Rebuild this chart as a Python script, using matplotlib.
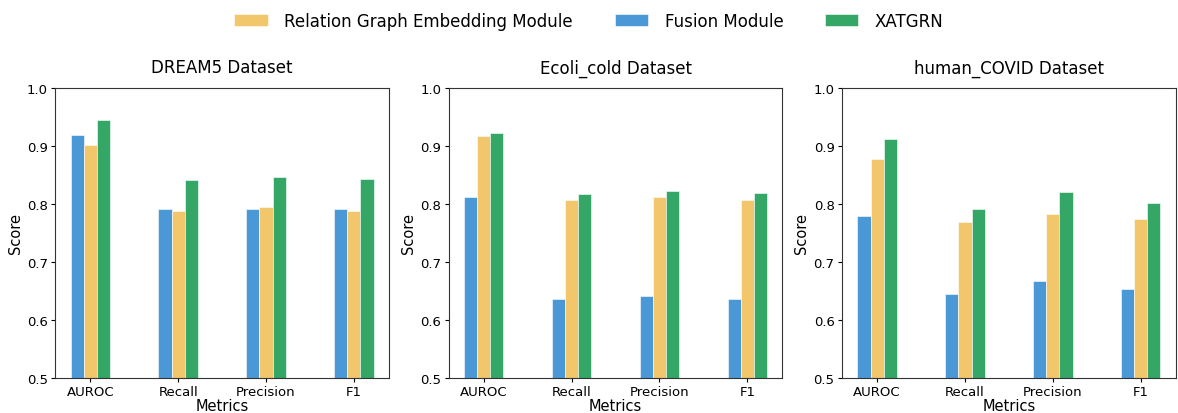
import numpy as np
import matplotlib.pyplot as plt

# data
metrics = ["AUROC", "Recall", "Precision", "F1"]
datasets = ["DREAM5 Dataset", "Ecoli_cold Dataset", "human_COVID Dataset"]

fusion = [
    [0.919, 0.790, 0.791, 0.790],
    [0.812, 0.635, 0.641, 0.636],
    [0.779, 0.645, 0.667, 0.653],
]
relation = [
    [0.901, 0.787, 0.794, 0.788],
    [0.916, 0.806, 0.812, 0.807],
    [0.877, 0.768, 0.782, 0.774],
]
xatgrn = [
    [0.945, 0.840, 0.846, 0.842],
    [0.922, 0.817, 0.822, 0.818],
    [0.911, 0.791, 0.820, 0.802],
]

c_blue = "#4a98d6"
c_yellow = "#f2c76b"
c_green = "#34a665"

fig, axes = plt.subplots(1, 3, figsize=(11.78, 4.14), dpi=100)
fig.subplots_adjust(left=0.047, right=0.998, bottom=0.085, top=0.786, wspace=0.18)

x = np.arange(len(metrics))
w = 0.15

for i, ax in enumerate(axes):
    b1 = ax.bar(x - w, fusion[i], w, color=c_blue, edgecolor="white", linewidth=0.4, label="Fusion Module")
    b2 = ax.bar(x, relation[i], w, color=c_yellow, edgecolor="white", linewidth=0.4,
                label="Relation Graph Embedding Module")
    b3 = ax.bar(x + w, xatgrn[i], w, color=c_green, edgecolor="white", linewidth=0.4, label="XATGRN")
    ax.set_ylim(0.5, 1.0)
    ax.set_xticks(x)
    ax.set_xticklabels(metrics)
    ax.tick_params(axis="both", labelsize=9.5, length=3, pad=2.5)
    ax.set_title(datasets[i], fontsize=12, pad=11)
    ax.set_xlabel("Metrics", fontsize=10.5, labelpad=0)
    ax.set_ylabel("Score", fontsize=10.5, labelpad=3)
    for s in ax.spines.values():
        s.set_color("#333333")

fig.legend([b2, b1, b3], ["Relation Graph Embedding Module", "Fusion Module", "XATGRN"],
           loc="upper center", bbox_to_anchor=(0.5, 1.005), ncol=3, frameon=False,
           fontsize=12, handlelength=2.0, handletextpad=1.0, columnspacing=2.5)

plt.savefig("out.png")
